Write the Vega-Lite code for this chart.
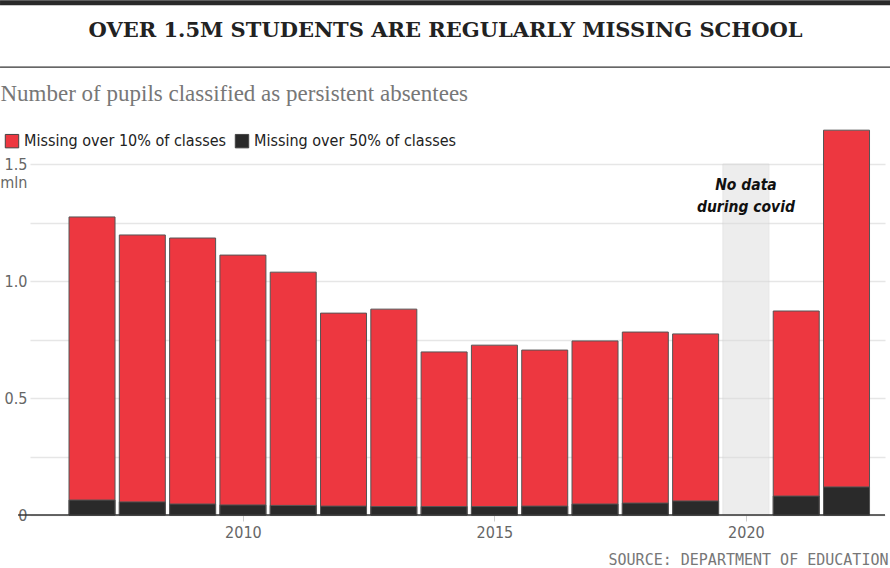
{
  "$schema": "https://vega.github.io/schema/vega-lite/v6.json",
  "width": 855,
  "height": 386,
  "autosize": {"type": "none"},
  "padding": {"left": 30, "top": 129, "right": 5, "bottom": 53},
  "background": "white",
  "title": {
    "text": "OVER 1.5M STUDENTS ARE REGULARLY MISSING SCHOOL",
    "font": "DejaVu Serif",
    "fontSize": 21,
    "fontWeight": "bold",
    "color": "#222222",
    "anchor": "middle",
    "frame": "group",
    "dx": -12,
    "offset": -41
  },
  "config": {
    "view": {"stroke": null},
    "font": "'DejaVu Sans Condensed', 'Liberation Sans Narrow', 'Roboto Condensed', Roboto, sans-serif"
  },
  "datasets": {
    "absence": [
      {"year": 2007, "Missing over 10% of classes": 1.274, "Missing over 50% of classes": 0.064},
      {"year": 2008, "Missing over 10% of classes": 1.197, "Missing over 50% of classes": 0.056},
      {"year": 2009, "Missing over 10% of classes": 1.184, "Missing over 50% of classes": 0.047},
      {"year": 2010, "Missing over 10% of classes": 1.111, "Missing over 50% of classes": 0.043},
      {"year": 2011, "Missing over 10% of classes": 1.038, "Missing over 50% of classes": 0.041},
      {"year": 2012, "Missing over 10% of classes": 0.863, "Missing over 50% of classes": 0.038},
      {"year": 2013, "Missing over 10% of classes": 0.880, "Missing over 50% of classes": 0.036},
      {"year": 2014, "Missing over 10% of classes": 0.697, "Missing over 50% of classes": 0.036},
      {"year": 2015, "Missing over 10% of classes": 0.726, "Missing over 50% of classes": 0.036},
      {"year": 2016, "Missing over 10% of classes": 0.705, "Missing over 50% of classes": 0.038},
      {"year": 2017, "Missing over 10% of classes": 0.744, "Missing over 50% of classes": 0.047},
      {"year": 2018, "Missing over 10% of classes": 0.782, "Missing over 50% of classes": 0.051},
      {"year": 2019, "Missing over 10% of classes": 0.774, "Missing over 50% of classes": 0.060},
      {"year": 2021, "Missing over 10% of classes": 0.872, "Missing over 50% of classes": 0.081},
      {"year": 2022, "Missing over 10% of classes": 1.645, "Missing over 50% of classes": 0.120}
    ],
    "covid": [{"year": 2020, "note": "No data\nduring covid"}]
  },
  "layer": [
    {
      "data": {"name": "covid"},
      "mark": {"type": "bar", "size": 46, "color": "#dcdcdc", "opacity": 0.5, "stroke": "#d0d0d0", "strokeWidth": 1},
      "encoding": {
        "x": {"field": "year", "type": "quantitative", "scale": {"domain": [2005.767, 2022.765], "nice": false, "zero": false, "padding": 0},
          "axis": {
            "values": [2010, 2015, 2020], "format": "d", "domain": false, "grid": false,
            "ticks": true, "tickColor": "#cccccc", "tickSize": 6,
            "labelFontSize": 16, "labelColor": "#666666", "labelPadding": 3,
            "title": "SOURCE: DEPARTMENT OF EDUCATION",
            "titleFont": "DejaVu Sans Mono", "titleFontSize": 15, "titleFontWeight": "normal",
            "titleColor": "#777777", "titleAnchor": "end", "titleAlign": "right",
            "titleBaseline": "middle", "titleX": 858, "titleY": 44
          }},
        "y": {"datum": 1.5, "type": "quantitative",
          "scale": {"domain": [0, 1.65], "nice": false},
          "axis": {
            "values": [0, 0.25, 0.5, 0.75, 1, 1.25, 1.5],
            "labelExpr": "datum.value == 0 ? '0' : (datum.value == 1.5 ? ['1.5', 'mln'] : ((datum.value == 0.5 || datum.value == 1) ? format(datum.value, '.1f') : ''))",
            "grid": true, "gridColor": "#e6e6e6", "gridWidth": 1.5,
            "domain": false, "ticks": false, "labelPadding": 3,
            "labelFontSize": 16, "labelColor": "#666666",
            "labelBaseline": "top", "labelOffset": -8, "labelLineHeight": 18,
            "title": "Number of pupils classified as persistent absentees",
            "titleAngle": 0, "titleAlign": "left", "titleBaseline": "middle",
            "titleX": -30, "titleY": -36,
            "titleFont": "Liberation Serif", "titleFontSize": 23,
            "titleFontWeight": "normal", "titleColor": "#777777"
          }},
        "y2": {"datum": 0}
      }
    },
    {
      "data": {"name": "covid"},
      "mark": {"type": "text", "fontWeight": "bold", "fontStyle": "italic", "fontSize": 15.5, "lineBreak": "\n", "lineHeight": 22, "baseline": "top", "align": "center", "color": "#111111"},
      "encoding": {
        "x": {"field": "year", "type": "quantitative"},
        "y": {"datum": 1.44, "type": "quantitative"},
        "text": {"field": "note"}
      }
    },
    {
      "data": {"name": "absence"},
      "transform": [
        {"fold": ["Missing over 10% of classes", "Missing over 50% of classes"], "as": ["series", "value"]}
      ],
      "mark": {"type": "bar", "size": 46, "stroke": "#555555", "strokeWidth": 1},
      "encoding": {
        "x": {"field": "year", "type": "quantitative"},
        "y": {"field": "value", "type": "quantitative", "stack": null},
        "color": {
          "field": "series", "type": "nominal",
          "scale": {"domain": ["Missing over 10% of classes", "Missing over 50% of classes"], "range": ["#ED3740", "#2A2A2A"]},
          "legend": {
            "orient": "none", "legendX": -26, "legendY": 4, "direction": "horizontal",
            "title": null, "symbolType": "square", "symbolSize": 180,
            "symbolStrokeColor": "#444444", "symbolStrokeWidth": 1, "symbolOpacity": 1,
            "labelFontSize": 16, "labelColor": "#222222", "columnPadding": 6,
            "labelOffset": 4, "padding": 0, "labelLimit": 400
          }
        }
      }
    },
    {
      "data": {"values": [{}]},
      "mark": {"type": "rule", "color": "#333333", "strokeWidth": 1.5},
      "encoding": {
        "x": {"datum": 2005.53, "type": "quantitative"},
        "x2": {"datum": 2022.765},
        "y": {"datum": 0, "type": "quantitative"}
      }
    },
    {
      "data": {"values": [{}]},
      "mark": {"type": "rule", "color": "#2a2a2a", "strokeWidth": 5},
      "encoding": {
        "x": {"datum": 2005.171, "type": "quantitative"},
        "x2": {"datum": 2022.865},
        "y": {"datum": 2.19, "type": "quantitative"}
      }
    },
    {
      "data": {"values": [{}]},
      "mark": {"type": "rule", "color": "#333333", "strokeWidth": 1.2},
      "encoding": {
        "x": {"datum": 2005.171, "type": "quantitative"},
        "x2": {"datum": 2022.865},
        "y": {"datum": 1.9145, "type": "quantitative"}
      }
    }
  ]
}
